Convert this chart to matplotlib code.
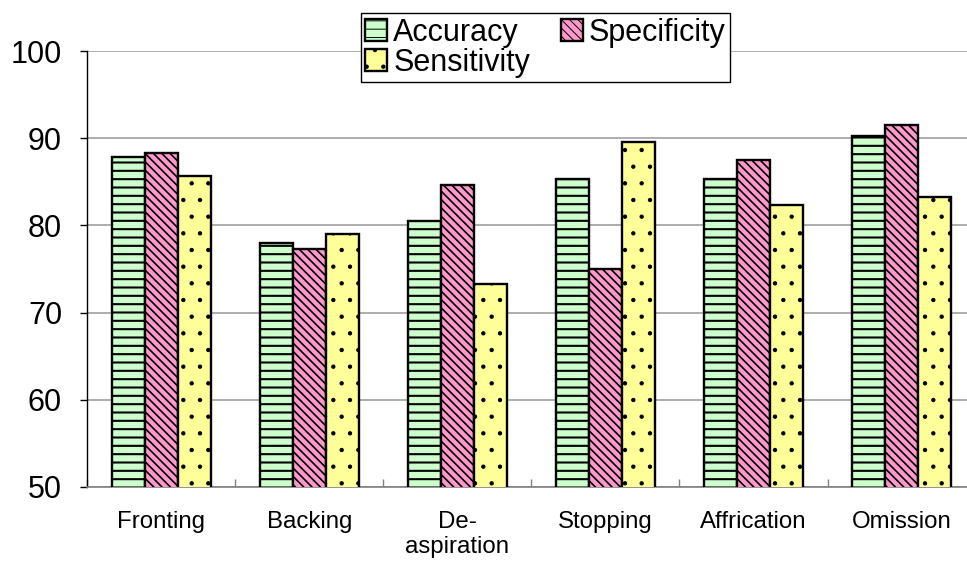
import numpy as np
import matplotlib
matplotlib.use('Agg')
import matplotlib.pyplot as plt

plt.rcParams['font.family'] = ['Liberation Sans', 'DejaVu Sans']

categories = ['Fronting', 'Backing', 'De-\naspiration', 'Stopping', 'Affrication', 'Omission']
accuracy = [87.8, 78.0, 80.5, 85.3, 85.3, 90.2]
specificity = [88.3, 77.3, 84.6, 75.0, 87.5, 91.5]
sensitivity = [85.7, 79.0, 73.3, 89.6, 82.3, 83.3]
yticks = [50, 60, 70, 80, 90, 100]


def main():
    fig = plt.figure(figsize=(9.67, 5.63), dpi=100)
    ax = fig.add_axes([0.09, 0.135, 0.919, 0.7744])

    x = np.arange(len(categories))
    w = 0.223

    # hatch line width is picked up per patch when it is created
    plt.rcParams['hatch.linewidth'] = 1.5
    b1 = ax.bar(x - w, accuracy, w, color='#CCFFCC', edgecolor='black',
                linewidth=1.7, hatch='--', label='Accuracy', zorder=3)
    plt.rcParams['hatch.linewidth'] = 1.2
    b2 = ax.bar(x, specificity, w, color='#FF99CC', edgecolor='black',
                linewidth=1.7, hatch='\\\\\\\\', label='Specificity', zorder=3)
    plt.rcParams['hatch.linewidth'] = 0.7
    b3 = ax.bar(x + w, sensitivity, w, color='#FFFF99', edgecolor='black',
                linewidth=1.7, hatch='.', label='Sensitivity', zorder=3)

    ax.set_xlim(-0.5, len(categories) - 0.5)
    ax.set_ylim(50, 100)
    ax.set_yticks(yticks)
    ax.yaxis.grid(True, color='#A0A0A0', linewidth=1.2, zorder=0)
    ax.set_axisbelow(True)

    for s in ['top', 'right']:
        ax.spines[s].set_visible(False)
    ax.spines['left'].set_color('black')
    ax.spines['left'].set_linewidth(1.0)
    ax.spines['bottom'].set_color('#808080')
    ax.spines['bottom'].set_linewidth(1.2)

    ax.tick_params(axis='y', labelsize=22, length=5, width=1, pad=13, direction='out')
    ax.set_xticks(x)
    ax.set_xticklabels(categories, fontsize=17.3, linespacing=1.2)
    ax.tick_params(axis='x', length=0, pad=17)
    ax.set_xticks(np.arange(-0.5, len(categories), 1.0), minor=True)
    ax.tick_params(axis='x', which='minor', direction='in', length=6,
                   width=1, color='#808080')

    # legend order so that the two-column layout matches
    fig.legend([b1, b3, b2], ['Accuracy', 'Sensitivity', 'Specificity'],
               ncol=2, loc='upper center', bbox_to_anchor=(0.564, 0.977),
               fontsize=22, frameon=True, fancybox=False, edgecolor='black',
               framealpha=1, borderpad=0.15, handlelength=0.72, handleheight=0.72,
               handletextpad=0.2, columnspacing=1.0, labelspacing=0.0,
               borderaxespad=0)

    fig.savefig('out.png', dpi=100)


if __name__ == "__main__":
    main()
